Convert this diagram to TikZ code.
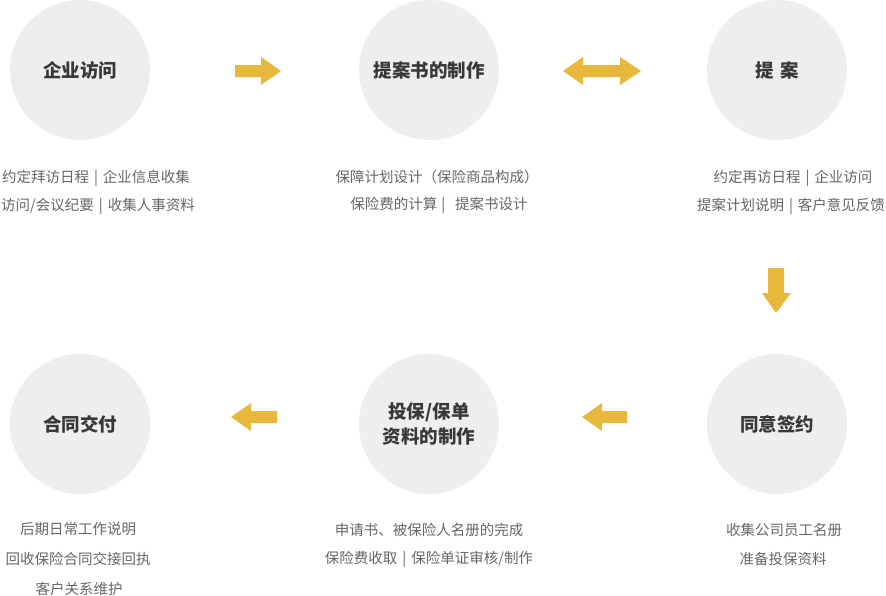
\documentclass[tikz,border=0pt]{standalone}
\usepackage{fontspec}
\setmainfont{Noto Sans CJK SC}
\definecolor{circfill}{HTML}{EEEEEE}
\definecolor{arrowcol}{HTML}{E8B83C}
\definecolor{labelcol}{HTML}{383838}
\definecolor{desccol}{HTML}{666666}
\newcommand{\vsep}{\hspace{5pt}|\hspace{5pt}}
\begin{document}
\begin{tikzpicture}[x=1pt,y=-1pt,
  stepcirc/.style={circle,fill=circfill,minimum size=140pt,inner sep=0pt,text=labelcol,
    font=\fontsize{18.5}{25}\selectfont\bfseries,align=center},
  desc/.style={text=desccol,font=\fontsize{14.5}{14.5}\selectfont,inner sep=0pt,anchor=center},
  blockarrow/.style={fill=arrowcol,draw=none}]
\useasboundingbox (0,0) rectangle (886,595);
% circles
\node[stepcirc] (c1) at (80,70) {企业访问};
\node[stepcirc] (c2) at (429,70) {提案书的制作};
\node[stepcirc] (c3) at (777,70) {提\,\,案};
\node[stepcirc] (c4) at (777,424) {同意签约};
\node[stepcirc] (c5) at (429,424) {投保/保单\\资料的制作};
\node[stepcirc] (c6) at (80,424) {合同交付};
% descriptions
\node[desc] (d1a) at (96,178) {约定拜访日程\vsep 企业信息收集};
\node[desc] (d1b) at (98,206) {访问/会议纪要\vsep 收集人事资料};
\node[desc] (d2a) at (437,177) {保障计划设计（保险商品构成）};
\node[desc] (d2b) at (439,205) {保险费的计算\hspace{4pt}|\hspace{10pt}提案书设计};
\node[desc] (d3a) at (793,178) {约定再访日程\vsep 企业访问};
\node[desc] (d3b) at (791,206) {提案计划说明\vsep 客户意见反馈};
\node[desc] (d4a) at (784,530) {收集公司员工名册};
\node[desc] (d4b) at (783,559) {准备投保资料};
\node[desc] (d5a) at (429,530) {申请书、被保险人名册的完成};
\node[desc] (d5b) at (429,559) {保险费收取\vsep 保险单证审核/制作};
\node[desc] (d6a) at (78,529) {后期日常工作说明};
\node[desc] (d6b) at (78,559) {回收保险合同交接回执};
\node[desc] (d6c) at (79,589) {客户关系维护};
% arrows
\fill[blockarrow] (235,65) -- (261,65) -- (261,57) -- (281,71) -- (261,85) -- (261,77) -- (235,77) -- cycle;
\fill[blockarrow] (563,71) -- (583,57) -- (583,65) -- (620,65) -- (620,57) -- (641,71) -- (620,85) -- (620,77) -- (583,77) -- (583,85) -- cycle;
\fill[blockarrow] (768,268) -- (784,268) -- (784,293) -- (791,293) -- (776,313) -- (762,293) -- (768,293) -- cycle;
\fill[blockarrow] (627,411) -- (602,411) -- (602,403) -- (582,417) -- (602,431) -- (602,423) -- (627,423) -- cycle;
\fill[blockarrow] (277,411) -- (251,411) -- (251,403) -- (231,417) -- (251,431) -- (251,423) -- (277,423) -- cycle;
\end{tikzpicture}
\end{document}
